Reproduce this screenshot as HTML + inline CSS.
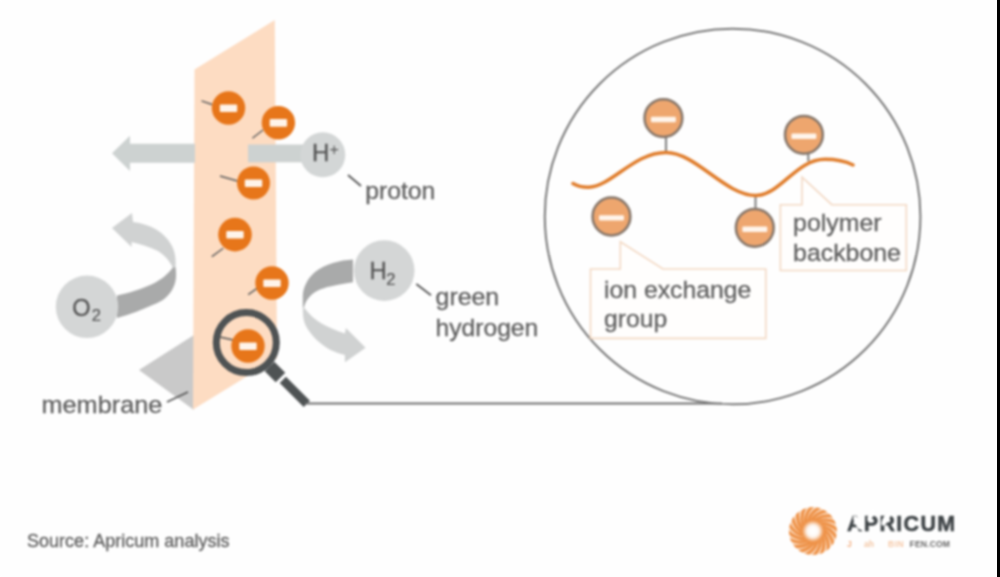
<!DOCTYPE html>
<html>
<head>
<meta charset="utf-8">
<style>
html,body{margin:0;padding:0;background:#fff;}
body{width:1000px;height:577px;overflow:hidden;position:relative;}
svg{position:absolute;left:0;top:0;display:block;filter:blur(0.85px);}
text{font-family:"Liberation Sans", sans-serif;}
.lb{font-size:24.3px;fill:#606060;stroke:#606060;stroke-width:0.3px;}
</style>
</head>
<body>
<svg width="1000" height="577" viewBox="0 0 1000 577">
<rect x="0" y="0" width="1000" height="577" fill="#fefefe"/>

<!-- membrane shadow -->
<polygon points="139,370 194,335 194,410" fill="#c9c9c9"/>
<!-- membrane -->
<polygon points="194.5,69.5 274.8,20 277,358 193,409.5" fill="#fddcc2"/>

<!-- left arrow -->
<polygon points="112,153.3 130,135.7 130,143.8 195,143.8 195,162.8 130,162.8 130,171" fill="#cdd2d1"/>
<!-- right shaft + H+ -->
<rect x="248" y="144.5" width="60" height="17.8" fill="#cdd2d1"/>
<circle cx="322.8" cy="154.8" r="22.5" fill="#d3d6d6"/>
<text x="312" y="161.2" font-size="24" fill="#555" stroke="#555" stroke-width="0.3">H</text>
<text x="329.5" y="155" font-size="16" fill="#555">+</text>
<line x1="348" y1="175" x2="361" y2="186" stroke="#555" stroke-width="1.8"/>
<text class="lb" x="365.2" y="198.7" textLength="70.2" lengthAdjust="spacingAndGlyphs">proton</text>

<!-- membrane ions -->
<g stroke="#5c5c5c" stroke-width="1.4">
<line x1="201.5" y1="100.8" x2="212" y2="104.5"/>
<line x1="252.4" y1="138.2" x2="263" y2="130"/>
<line x1="220" y1="176" x2="237.4" y2="181"/>
<line x1="211.8" y1="256.6" x2="223.3" y2="248.3"/>
<line x1="248.2" y1="294.6" x2="257" y2="288.4"/>
</g>
<g fill="#e7761a">
<circle cx="228.5" cy="108" r="16.7"/>
<circle cx="278.4" cy="122.7" r="16.7"/>
<circle cx="253.5" cy="183" r="16.5"/>
<circle cx="235" cy="234.6" r="16.8"/>
<circle cx="272" cy="283" r="16.7"/>
</g>
<g fill="#fff4ea">
<rect x="219.8" y="104.5" width="17.4" height="7.6" rx="1"/>
<rect x="269.7" y="119.1" width="17.4" height="7.6" rx="1"/>
<rect x="244.8" y="179.4" width="17.4" height="7.6" rx="1"/>
<rect x="226.3" y="231.0" width="17.4" height="7.6" rx="1"/>
<rect x="263.3" y="279.4" width="17.4" height="7.6" rx="1"/>
</g>

<!-- O2 curved arrow -->
<path d="M112,228 L132,213 L133,222 C150,224 165,232 172,246 C175,252 176,258 175.5,267 L172.7,267.4 C170,262 166,256 158,251 C150,247 140,244 131.6,242 L131.6,247 Z" fill="#d0d2d2"/>
<path d="M175.5,267 C176.5,274 176.5,281 173.5,287 C170,295 163,301.5 152.5,305 C143,309.5 131,314 117,318 L117,295.6 C128,293.5 142,289 152.5,284.1 C162,279 168,274 172.7,267.4 Z" fill="#a9aaaa"/>
<circle cx="87" cy="306.8" r="31.2" fill="#d4d6d6"/>
<text x="72.3" y="316" font-size="23.5" fill="#555" stroke="#555" stroke-width="0.3">O</text>
<text x="91.8" y="320.8" font-size="16.5" fill="#555" stroke="#555" stroke-width="0.2">2</text>

<!-- H2 curved arrow -->
<path d="M353,259.4 C340,260 325,264 315,272 C307,279 303,288 302.8,296 L302.8,307.5 L304,307.5 C305,302 309,295 317.9,290.4 C325,287 335,285 353,282.2 Z" fill="#a9aaaa"/>
<path d="M302.8,307.5 C302.8,314 303,319 305,324 C309,333 318,343 330,349.7 C336,352 340,354 344.9,355 L344.9,362.2 L365.6,347.7 L345.9,327.9 L344.9,333.5 C336,331 328,327 322,323.8 C315,320 309,314 304,307.5 Z" fill="#d0d2d2"/>
<circle cx="384.2" cy="270.6" r="30.3" fill="#d4d6d6"/>
<text x="369.5" y="278.5" font-size="24" fill="#555" stroke="#555" stroke-width="0.3">H</text>
<text x="386.3" y="284.6" font-size="16.5" fill="#555" stroke="#555" stroke-width="0.2">2</text>
<line x1="416.3" y1="284" x2="431" y2="295.2" stroke="#555" stroke-width="1.8"/>
<text class="lb" x="435.6" y="304.9" textLength="63.6" lengthAdjust="spacingAndGlyphs">green</text>
<text class="lb" x="435.5" y="336.0" textLength="102.8" lengthAdjust="spacingAndGlyphs">hydrogen</text>

<!-- membrane label -->
<line x1="167" y1="402" x2="188" y2="392" stroke="#555" stroke-width="1.6"/>
<text class="lb" x="41.5" y="412.9" textLength="120.8" lengthAdjust="spacingAndGlyphs">membrane</text>

<!-- magnifier -->
<circle cx="246.3" cy="342.6" r="26.5" fill="#fddcc2"/>
<line x1="219.8" y1="337" x2="233.3" y2="340" stroke="#555" stroke-width="1.4"/>
<circle cx="248" cy="346" r="16.7" fill="#e7761a"/>
<rect x="239.3" y="342.4" width="17.4" height="7.6" rx="1" fill="#fff4ea"/>
<circle cx="246.3" cy="342.6" r="30" fill="none" stroke="#4f5354" stroke-width="7"/>
<line x1="269.5" y1="366.5" x2="280.5" y2="377.5" stroke="#4f5354" stroke-width="13.5"/>
<line x1="282.8" y1="379.8" x2="306.8" y2="403.8" stroke="#4f5354" stroke-width="8.8"/>
<line x1="305" y1="403.6" x2="722" y2="403.6" stroke="#6e6e6e" stroke-width="2"/>

<!-- big circle -->
<circle cx="732.6" cy="216.5" r="187.8" fill="none" stroke="#787878" stroke-width="2"/>

<!-- callout boxes -->
<path d="M590.5,269 L620.3,269 L620.3,241.8 L663,269 L765.8,269 L765.8,338.4 L590.5,338.4 Z" fill="#fffefd" stroke="#f3d9c4" stroke-width="1.6"/>
<text class="lb" x="604" y="298.2" textLength="147.2" lengthAdjust="spacingAndGlyphs">ion exchange</text>
<text class="lb" x="604" y="327.3" textLength="63.2" lengthAdjust="spacingAndGlyphs">group</text>
<path d="M780.4,204.7 L802,204.7 L802,177.2 L831.8,204.7 L906.3,204.7 L906.3,270.5 L780.4,270.5 Z" fill="#fffefd" stroke="#f3d9c4" stroke-width="1.6"/>
<text class="lb" x="793.1" y="230.8" textLength="88.4" lengthAdjust="spacingAndGlyphs">polymer</text>
<text class="lb" x="793.1" y="260.8" textLength="107.8" lengthAdjust="spacingAndGlyphs">backbone</text>

<!-- backbone -->
<g stroke="#7d7d7d" stroke-width="2">
<line x1="666" y1="137" x2="666" y2="153"/>
<line x1="808.3" y1="153.5" x2="808.3" y2="161"/>
<line x1="755.5" y1="196" x2="755.5" y2="208"/>
</g>
<path d="M573,183.5 C578,186.5 583,187.5 589,187.3 C612,186 634,152.5 666,152.5 C696,152.5 725,195.5 756,195.5 C780,195.5 796,159.3 825,159.3 C837,159.3 846,161.5 853,165" fill="none" stroke="#e07d2c" stroke-width="3.5" stroke-linecap="round"/>
<g fill="#eea66e" stroke="#86766a" stroke-width="2.5">
<circle cx="663.4" cy="118.1" r="18.9"/>
<circle cx="611.45" cy="216.5" r="18.9"/>
<circle cx="803.9" cy="134.8" r="18.9"/>
<circle cx="754.8" cy="227.8" r="18.9"/>
</g>
<g fill="#fff5ec">
<rect x="650.9" y="116.8" width="25" height="5.4" rx="1"/>
<rect x="599.0" y="215.2" width="25" height="5.4" rx="1"/>
<rect x="791.4" y="133.5" width="25" height="5.4" rx="1"/>
<rect x="742.3" y="226.5" width="25" height="5.4" rx="1"/>
</g>

<!-- source -->
<text x="27" y="546.5" font-size="17.8" fill="#606060" stroke="#606060" stroke-width="0.3" textLength="202.5" lengthAdjust="spacingAndGlyphs">Source: Apricum analysis</text>

<!-- logo -->
<!--LOGO-->
<g transform="translate(812.9,531.1)">
<defs><clipPath id="sunclip"><circle r="24"/></clipPath>
<radialGradient id="sung"><stop offset="0" stop-color="#fff" stop-opacity="1"/><stop offset="0.55" stop-color="#fff" stop-opacity="0.9"/><stop offset="1" stop-color="#fff" stop-opacity="0"/></radialGradient></defs>
<g clip-path="url(#sunclip)">
<circle r="24" fill="#fad8bb"/>
<path d="M5.00,0.00 Q15.80,8.63 7.22,26.02 M4.76,1.55 Q12.36,13.09 -1.17,26.97 M4.05,2.94 Q7.71,16.27 -9.45,25.29 M2.94,4.05 Q2.30,17.85 -16.80,21.13 M1.55,4.76 Q-3.33,17.69 -22.51,14.91 M0.00,5.00 Q-8.63,15.80 -26.02,7.22 M-1.55,4.76 Q-13.09,12.36 -26.97,-1.17 M-2.94,4.05 Q-16.27,7.71 -25.29,-9.45 M-4.05,2.94 Q-17.85,2.30 -21.13,-16.80 M-4.76,1.55 Q-17.69,-3.33 -14.91,-22.51 M-5.00,0.00 Q-15.80,-8.63 -7.22,-26.02 M-4.76,-1.55 Q-12.36,-13.09 1.17,-26.97 M-4.05,-2.94 Q-7.71,-16.27 9.45,-25.29 M-2.94,-4.05 Q-2.30,-17.85 16.80,-21.13 M-1.55,-4.76 Q3.33,-17.69 22.51,-14.91 M-0.00,-5.00 Q8.63,-15.80 26.02,-7.22 M1.55,-4.76 Q13.09,-12.36 26.97,1.17 M2.94,-4.05 Q16.27,-7.71 25.29,9.45 M4.05,-2.94 Q17.85,-2.30 21.13,16.80 M4.76,-1.55 Q17.69,3.33 14.91,22.51" fill="none" stroke="#ee9248" stroke-width="3"/>
</g>
<circle r="11" fill="url(#sung)"/>
</g>
<!--/LOGO-->
<text x="847" y="530.8" font-size="21.5" font-weight="bold" fill="#3f4447" letter-spacing="1.3" stroke="#3f4447" stroke-width="0.5">APRICUM</text>
<ellipse cx="858" cy="523" rx="3" ry="8" transform="rotate(-30 858 523)" fill="#fff"/>
<ellipse cx="871" cy="515" rx="2.5" ry="7" transform="rotate(25 871 515)" fill="#fff"/>
<ellipse cx="886" cy="519" rx="3" ry="7.5" transform="rotate(30 886 519)" fill="#fff"/>
<g font-size="8.5" font-weight="bold">
<text x="847" y="547" fill="#f3b184">J</text>
<text x="864" y="547" fill="#f3c7a5">ah</text>
<text x="888" y="547" fill="#f6c9a8" letter-spacing="0.5">BIN</text>
<text x="909.5" y="547" fill="#6a6a6a" letter-spacing="0.2">FEN.COM</text>
</g>

<!-- right black bar -->

</svg>
<div style="position:absolute;left:997px;top:0;width:3px;height:577px;background:#000;"></div>
</body>
</html>
